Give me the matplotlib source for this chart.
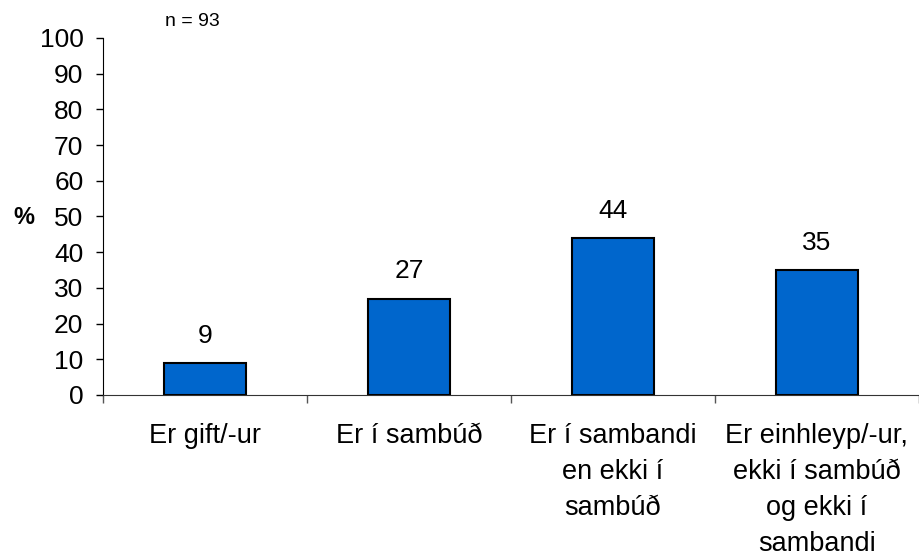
import numpy as np
from matplotlib import pyplot as plt

plt.rcParams['font.family'] = ['Liberation Sans', 'DejaVu Sans']

categories = ['Er gift/-ur', 'Er í sambúð', 'Er í sambandi\nen ekki í\nsambúð',
              'Er einhleyp/-ur,\nekki í sambúð\nog ekki í\nsambandi']
values = [9, 27, 44, 35]
yticks = list(range(0, 101, 10))

fig = plt.figure(figsize=(9.19, 5.56), dpi=100)
ax = fig.add_axes([0.112, 0.2896, 0.888, 0.6421])

x = np.arange(len(categories))
bars = ax.bar(x, values, width=0.4, color='#0066CC', edgecolor='black', linewidth=1.5)

for xi, v in zip(x, values):
    ax.annotate(str(v), (xi, v), xytext=(0, 11), textcoords='offset points',
                ha='center', va='bottom', fontsize=19)

ax.set_xlim(-0.5, len(categories) - 0.5)
ax.set_ylim(0, 100)
ax.set_yticks(yticks)
ax.tick_params(axis='y', labelsize=19, length=5, width=1, direction='out', pad=9)

ax.set_xticks(x)
ax.set_xticklabels(categories, fontsize=19.5, linespacing=1.5, va='top')
ax.tick_params(axis='x', which='major', length=0, pad=20)
ax.set_xticks(np.arange(-0.5, len(categories), 1), minor=True)
ax.tick_params(axis='x', which='minor', length=6, width=1, color='#555555', direction='out')

ax.spines['top'].set_visible(False)
ax.spines['right'].set_visible(False)
ax.spines['left'].set_color('black')
ax.spines['bottom'].set_color('#333333')

fig.text(24 / 919, 1 - 217 / 556, '%', fontsize=17, fontweight='bold', ha='center', va='center')
fig.text(165 / 919, 1 - 22 / 556, 'n = 93', fontsize=14, ha='left', va='center')

plt.savefig('out.png', dpi=100)
